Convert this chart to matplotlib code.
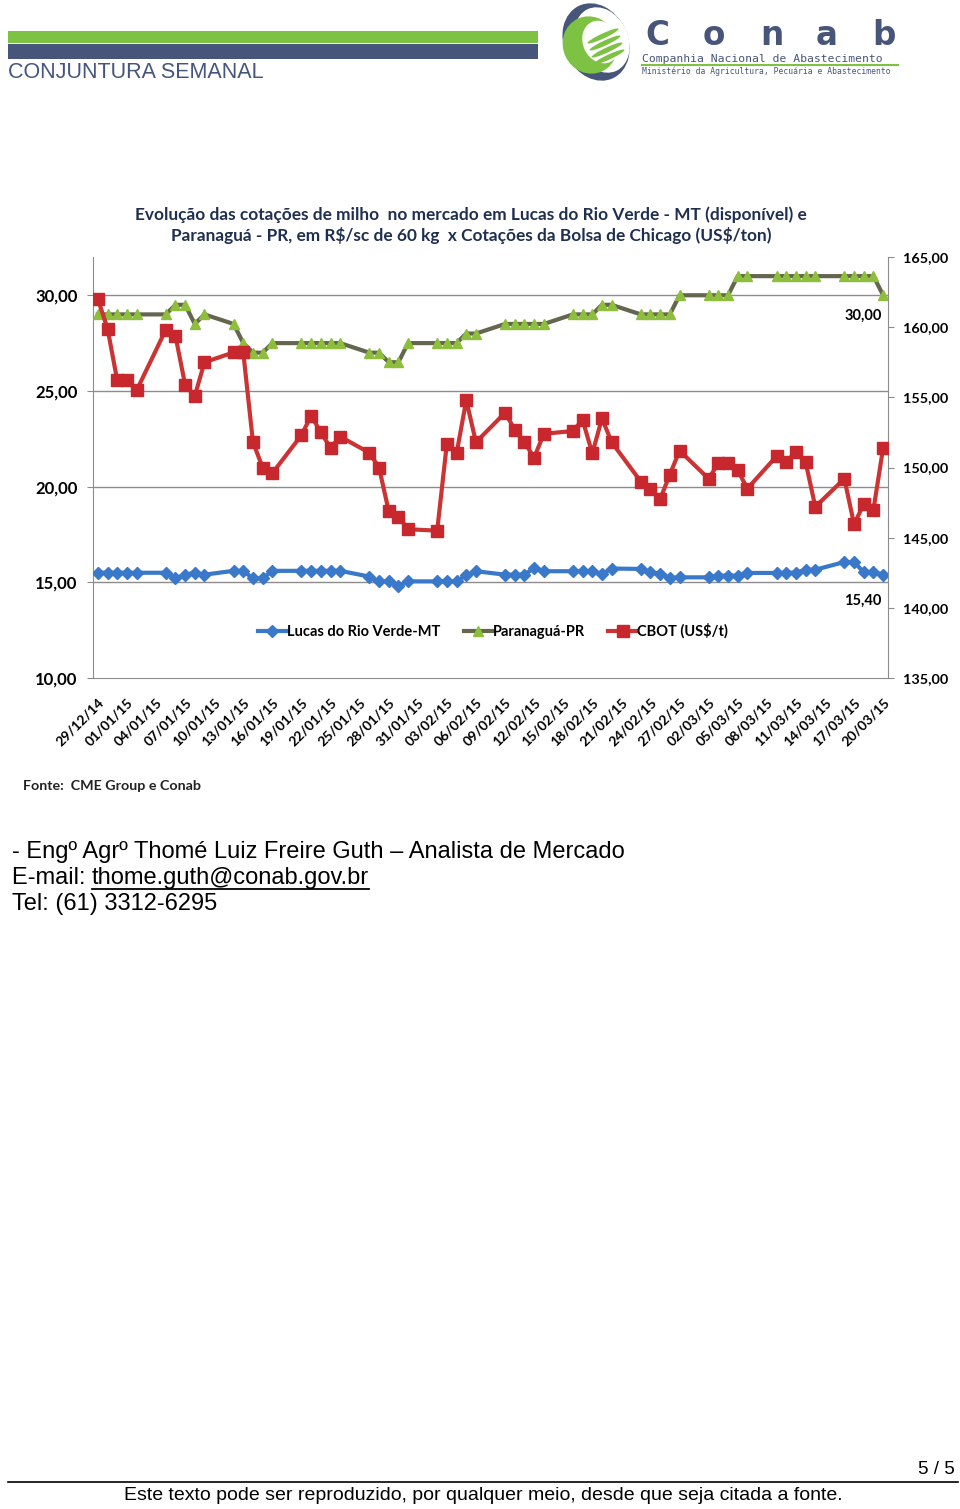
import matplotlib
matplotlib.use("Agg")
import matplotlib.pyplot as plt
import matplotlib.patches as mpatches
from matplotlib.lines import Line2D
import pandas as pd
import numpy as np

# ---------------- data ----------------
start_date = "2014-12-29"
end_date = "2015-03-20"

lucas = [15.5, 15.5, 15.5, 15.5, 15.5,
         15.5, 15.2, 15.4, 15.5, 15.4,
         15.6, 15.6, 15.2, 15.2, 15.6,
         15.6, 15.6, 15.6, 15.6, 15.6,
         15.3, 15.05, 15.05, 14.8, 15.05,
         15.05, 15.05, 15.05, 15.37, 15.58,
         15.4, 15.4, 15.4, 15.75, 15.58,
         15.58, 15.58, 15.58, 15.44, 15.72,
         15.7, 15.53, 15.44, 15.23, 15.26,
         15.26, 15.35, 15.35, 15.35, 15.49,
         15.49, 15.5, 15.5, 15.66, 15.66,
         16.06, 16.06, 15.53, 15.53, 15.40]

paranagua = [29.0, 29.0, 29.0, 29.0, 29.0,
             29.0, 29.5, 29.5, 28.5, 29.0,
             28.5, 27.5, 27.0, 27.0, 27.5,
             27.5, 27.5, 27.5, 27.5, 27.5,
             27.0, 27.0, 26.5, 26.5, 27.5,
             27.5, 27.5, 27.5, 28.0, 28.0,
             28.5, 28.5, 28.5, 28.5, 28.5,
             29.0, 29.0, 29.0, 29.5, 29.5,
             29.0, 29.0, 29.0, 29.0, 30.0,
             30.0, 30.0, 30.0, 31.0, 31.0,
             31.0, 31.0, 31.0, 31.0, 31.0,
             31.0, 31.0, 31.0, 31.0, 30.0]

cbot = [162.0, 159.9, 156.2, 156.2, 155.5,
        159.8, 159.4, 155.9, 155.1, 157.5,
        158.2, 158.2, 151.8, 150.0, 149.6,
        152.3, 153.7, 152.5, 151.4, 152.2,
        151.05, 150.0, 146.9, 146.5, 145.6,
        145.5, 151.7, 151.0, 154.8, 151.8,
        153.9, 152.7, 151.8, 150.7, 152.4,
        152.6, 153.4, 151.0, 153.5, 151.8,
        149.0, 148.5, 147.75, 149.5, 151.2,
        149.2, 150.3, 150.3, 149.8, 148.5,
        150.8, 150.4, 151.1, 150.4, 147.2,
        149.2, 145.95, 147.4, 147.0, 151.4]

left_ticks = [10, 15, 20, 25, 30]
right_ticks = [135, 140, 145, 150, 155, 160, 165]
series_names = ["Lucas do Rio Verde-MT", "Paranaguá-PR", "CBOT (US\\$/t)"]

title = ("Evolução das cotações de milho  no mercado em Lucas do Rio Verde - MT (disponível) e\n"
         "Paranaguá - PR, em R\\$/sc de 60 kg  x Cotações da Bolsa de Chicago (US\\$/ton)")

# ---------------- figure ----------------
W, H = 960, 1509
fig = plt.figure(figsize=(W / 100, H / 100), dpi=100)
fig.patch.set_facecolor("white")
renderer = fig.canvas.get_renderer()


def fx(px):
    return px / W


def fy(py):
    return 1 - py / H


# header / page overlay axes in pixel coordinates
hdr = fig.add_axes([0, 0, 1, 1], zorder=-5)
hdr.set_xlim(0, W)
hdr.set_ylim(H, 0)
hdr.axis("off")
hdr.add_patch(mpatches.Rectangle((8, 31), 530, 12, color="#7DC242", lw=0))
hdr.add_patch(mpatches.Rectangle((8, 44), 530, 15, color="#47557A", lw=0))
hdr.text(8, 72, "CONJUNTURA SEMANAL", fontsize=15.5, color="#45557F",
         family="Liberation Sans", va="center", ha="left")
# logo emblem
hdr.add_patch(mpatches.Ellipse((596, 42), 64, 80, angle=-25, color="#47557A", lw=0))
hdr.add_patch(mpatches.Ellipse((602, 40), 52, 68, angle=-25, color="white", lw=0))
hdr.add_patch(mpatches.Ellipse((590, 45), 54, 58, angle=-25, color="#7DC242", lw=0))
hdr.add_patch(mpatches.Ellipse((601, 42), 36, 44, angle=-25, color="white", lw=0))
for k in range(4):
    hdr.add_patch(mpatches.Ellipse((603 + k * 2, 36 + k * 7), 34, 5, angle=-25,
                                   color="#7DC242", lw=0))
for ch, cx in zip("Conab", [657, 714, 772, 827, 884]):
    hdr.text(cx, 45, ch, fontsize=23.5, fontweight="bold", color="#47557A",
             family="DejaVu Sans", va="baseline", ha="center")
hdr.text(642, 59, "Companhia Nacional de Abastecimento", fontsize=8.2,
         color="#47557A", family="DejaVu Sans Mono", va="center", ha="left")
hdr.plot([642, 898], [64.5, 64.5], color="#7DC242", lw=1.5)
hdr.text(642, 71, "Ministério da Agricultura, Pecuária e Abastecimento", fontsize=5.8,
         color="#47557A", family="DejaVu Sans Mono", va="center", ha="left")

# author text
fs_body = 17
hdr.text(12, 852, "- Engº Agrº Thomé Luiz Freire Guth – Analista de Mercado",
         fontsize=fs_body, family="Liberation Sans", va="center", ha="left", color="black")
t_lab = hdr.text(12, 878, "E-mail: ", fontsize=fs_body, family="Liberation Sans",
                 va="center", ha="left", color="black")
bb = t_lab.get_window_extent(renderer=renderer)
ex = bb.x1
t_mail = hdr.text(ex, 878, "thome.guth@conab.gov.br", fontsize=fs_body, family="Liberation Sans",
                  va="center", ha="left", color="black")
bb2 = t_mail.get_window_extent(renderer=renderer)
hdr.plot([bb2.x0, bb2.x1], [889, 889], color="black", lw=1.3)
hdr.text(12, 904, "Tel: (61) 3312-6295", fontsize=fs_body, family="Liberation Sans",
         va="center", ha="left", color="black")

# footer
hdr.plot([8, 958], [1482, 1482], color="black", lw=1.2)
hdr.text(955, 1470, "5 / 5", fontsize=13.5, family="Liberation Sans",
         va="center", ha="right", color="black")
hdr.text(483, 1496, "Este texto pode ser reproduzido, por qualquer meio, desde que seja citada a fonte.",
         fontsize=14, family="Liberation Sans", va="center", ha="center", color="black")
hdr.text(23, 786, "Fonte:  CME Group e Conab", fontsize=10.3, fontweight="bold",
         family="Lato", va="center", ha="left", color="#222222")

# chart title
hdr.text(471, 225, title, fontsize=12.4, fontweight="bold", family="Lato",
         va="center", ha="center", color="#1F2F4F", linespacing=1.3)

# ---------------- chart ----------------
dates = pd.bdate_range(start_date, end_date)
x0, x1 = 93, 888
y0, y1 = 257, 678
ax = fig.add_axes([fx(x0), fy(y1), fx(x1 - x0), (y1 - y0) / H])
ax2 = ax.twinx()

blue = "#3A78C9"
green_m = "#8DBE3C"
green_l = "#65664E"
red = "#CC3333"

ax.plot(dates, lucas, color=blue, lw=3, marker="D", ms=6.5, mfc=blue, mec=blue,
        zorder=4, label=series_names[0])
ax.plot(dates, paranagua, color=green_l, lw=3, marker="^", ms=7.5, mfc=green_m,
        mec=green_m, zorder=4, label=series_names[1])
ax2.plot(dates, cbot, color=red, lw=3, marker="s", ms=9, mfc="#C8272D", mec="#C8272D",
         zorder=4, label=series_names[2])

ax.set_ylim(10, 32)
ax2.set_ylim(135, 165)
ax.set_yticks(left_ticks)
ax.set_yticklabels([f"{v:.2f}".replace(".", ",") for v in left_ticks])
ax2.set_yticks(right_ticks)
ax2.set_yticklabels([f"{v:.2f}".replace(".", ",") for v in right_ticks])

xl0 = pd.Timestamp(start_date) - pd.Timedelta(hours=12)
xl1 = pd.Timestamp(end_date) + pd.Timedelta(hours=12)
ax.set_xlim(xl0, xl1)
tick_dates = pd.date_range(start_date, end_date, freq="3D")
ax.set_xticks(tick_dates)
ax.set_xticklabels([d.strftime("%d/%m/%y") for d in tick_dates], rotation=45,
                   ha="right", va="top", rotation_mode="anchor",
                   fontsize=10, fontweight="bold", family="Lato")
ax.tick_params(axis="x", length=0, pad=13)

for v in left_ticks[1:]:
    ax.axhline(v, color="#8C8C8C", lw=1, zorder=1)

for a in (ax, ax2):
    for s in a.spines.values():
        s.set_visible(False)
ax.spines["left"].set_visible(True)
ax.spines["left"].set_color("#8C8C8C")
ax.spines["bottom"].set_visible(True)
ax.spines["bottom"].set_color("#8C8C8C")
ax2.spines["right"].set_visible(True)
ax2.spines["right"].set_color("#8C8C8C")
ax.tick_params(axis="y", length=4, color="#8C8C8C", labelsize=12, pad=7)
ax2.tick_params(axis="y", length=4, color="#8C8C8C", labelsize=10.4, pad=7)
for lab in ax.get_yticklabels():
    lab.set_fontweight("bold")
    lab.set_family("Lato")
for lab in ax2.get_yticklabels():
    lab.set_fontweight("bold")
    lab.set_family("Lato")

# data labels
ax.annotate("30,00", (dates[-1], paranagua[-1]), xytext=(-1, -14.5), textcoords="offset points",
            ha="right", va="center", fontsize=10.5, fontweight="bold", family="Lato")
ax.annotate("15,40", (dates[-1], lucas[-1]), xytext=(-1, -19), textcoords="offset points",
            ha="right", va="center", fontsize=10.5, fontweight="bold", family="Lato")

handles = [Line2D([], [], color=blue, lw=3, marker="D", ms=6, mfc=blue, mec=blue),
           Line2D([], [], color=green_l, lw=3, marker="^", ms=7.5, mfc=green_m, mec=green_m),
           Line2D([], [], color=red, lw=3, marker="s", ms=8, mfc="#C8272D", mec="#C8272D")]
leg = fig.legend(handles, series_names, loc="center", bbox_to_anchor=(fx(493), fy(631)),
                 ncol=3, frameon=False, handlelength=2.0, handletextpad=0.0,
                 columnspacing=1.6, prop={"family": "Lato", "weight": "bold", "size": 10.5})

fig.savefig("out.png", dpi=100)
